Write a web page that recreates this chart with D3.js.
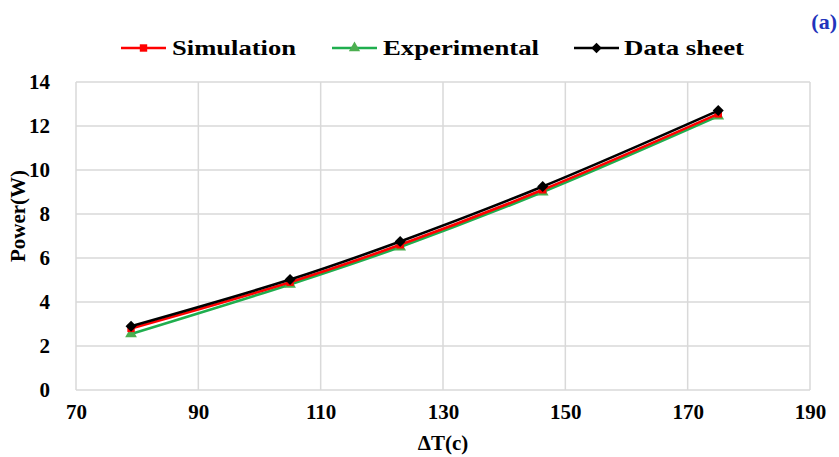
<!DOCTYPE html>
<html><head><meta charset="utf-8">
<script src="https://cdn.jsdelivr.net/npm/d3@7/dist/d3.min.js"></script>
<style>body{margin:0;background:#fff;} svg{display:block;}</style>
</head><body>
<svg id="chart" width="839" height="457"></svg>
<script>
const deltaT = [79, 105, 123, 146.3, 175];
const simulation = [2.8, 4.9, 6.6, 9.1, 12.55];
const experimental = [2.55, 4.8, 6.5, 9.0, 12.45];
const dataSheet = [2.9, 5.02, 6.75, 9.25, 12.7];
const xTicks = [70, 90, 110, 130, 150, 170, 190];
const yTicks = [0, 2, 4, 6, 8, 10, 12, 14];
const seriesNames = ["Simulation", "Experimental", "Data sheet"];

const font = "'Liberation Serif','Times New Roman','DejaVu Serif',serif";
const fs = 21;

const svg = d3.select("#chart");
const x = d3.scaleLinear().domain([70, 190]).range([76, 810]);
const y = d3.scaleLinear().domain([0, 14]).range([390, 82]);

svg.append("g").selectAll("line").data(xTicks).join("line")
  .attr("x1", d => x(d)).attr("x2", d => x(d)).attr("y1", y(0)).attr("y2", y(14))
  .attr("stroke", "#d9d9d9").attr("stroke-width", 1.5);
svg.append("g").selectAll("line").data(yTicks).join("line")
  .attr("x1", x(70)).attr("x2", x(190)).attr("y1", d => y(d)).attr("y2", d => y(d))
  .attr("stroke", "#d9d9d9").attr("stroke-width", 1.5);

const xAxis = svg.append("g").attr("transform", `translate(0,${y(0)})`)
  .call(d3.axisBottom(x).tickValues(xTicks).tickSize(0).tickPadding(14));
const yAxis = svg.append("g").attr("transform", `translate(${x(70)},0)`)
  .call(d3.axisLeft(y).tickValues(yTicks).tickSize(0).tickPadding(26));
[xAxis, yAxis].forEach(a => {
  a.attr("font-family", null).attr("font-size", null);
  a.select(".domain").remove();
  a.selectAll("text").style("font-family", font).style("font-weight", "bold")
    .style("font-size", fs + "px").attr("fill", "#000");
});

function label(sel) { return sel.style("font-family", font).style("font-weight", "bold").style("font-size", fs + "px"); }
label(svg.append("text")).attr("x", 443).attr("y", 450).attr("text-anchor", "middle").text("ΔT(c)");
label(svg.append("text")).attr("transform", "translate(25,216) rotate(-90)").attr("text-anchor", "middle").text("Power(W)");
label(svg.append("text")).attr("x", 837).attr("y", 29).attr("text-anchor", "end")
  .style("font-size", "22px").attr("fill", "#2233bb").text("(a)");

const diamond = {draw(ctx, size) { const r = Math.sqrt(size / 2); ctx.moveTo(0, -r); ctx.lineTo(r, 0); ctx.lineTo(0, r); ctx.lineTo(-r, 0); ctx.closePath(); }};

const series = [
  {vals: experimental, color: "#1fae4e", fill: "#4caf50", marker: d3.symbolTriangle, size: 60},
  {vals: simulation, color: "#ff0000", fill: "#ff0000", marker: d3.symbolSquare, size: 55},
  {vals: dataSheet, color: "#000000", fill: "#000000", marker: diamond, size: 60}
];

const line = d3.line().x(d => x(d[0])).y(d => y(d[1])).curve(d3.curveCatmullRom.alpha(0.5));
series.forEach(s => {
  const pts = deltaT.map((t, i) => [t, s.vals[i]]);
  svg.append("path").datum(pts).attr("d", line).attr("fill", "none")
    .attr("stroke", s.color).attr("stroke-width", 2.6);
  svg.append("g").selectAll("path").data(pts).join("path")
    .attr("transform", d => `translate(${x(d[0])},${y(d[1])})`)
    .attr("d", d3.symbol().type(s.marker).size(s.size))
    .attr("fill", s.fill);
});

const legendItems = [
  {name: seriesNames[0], color: "#ff0000", fill: "#ff0000", marker: d3.symbolSquare, lx: 121, tx: 172, tw: 124},
  {name: seriesNames[1], color: "#1fae4e", fill: "#4caf50", marker: d3.symbolTriangle, lx: 332, tx: 383, tw: 156},
  {name: seriesNames[2], color: "#000000", fill: "#000000", marker: diamond, lx: 574, tx: 624, tw: 120}
];
const lg = svg.append("g");
legendItems.forEach(it => {
  lg.append("line").attr("x1", it.lx).attr("x2", it.lx + 45).attr("y1", 48).attr("y2", 48)
    .attr("stroke", it.color).attr("stroke-width", 2.6);
  lg.append("path").attr("transform", `translate(${it.lx + 22.5},48)`)
    .attr("d", d3.symbol().type(it.marker).size(55))
    .attr("fill", it.fill);
  label(lg.append("text")).attr("x", it.tx).attr("y", 55)
    .attr("textLength", it.tw).attr("lengthAdjust", "spacingAndGlyphs").text(it.name);
});
</script>
</body></html>
